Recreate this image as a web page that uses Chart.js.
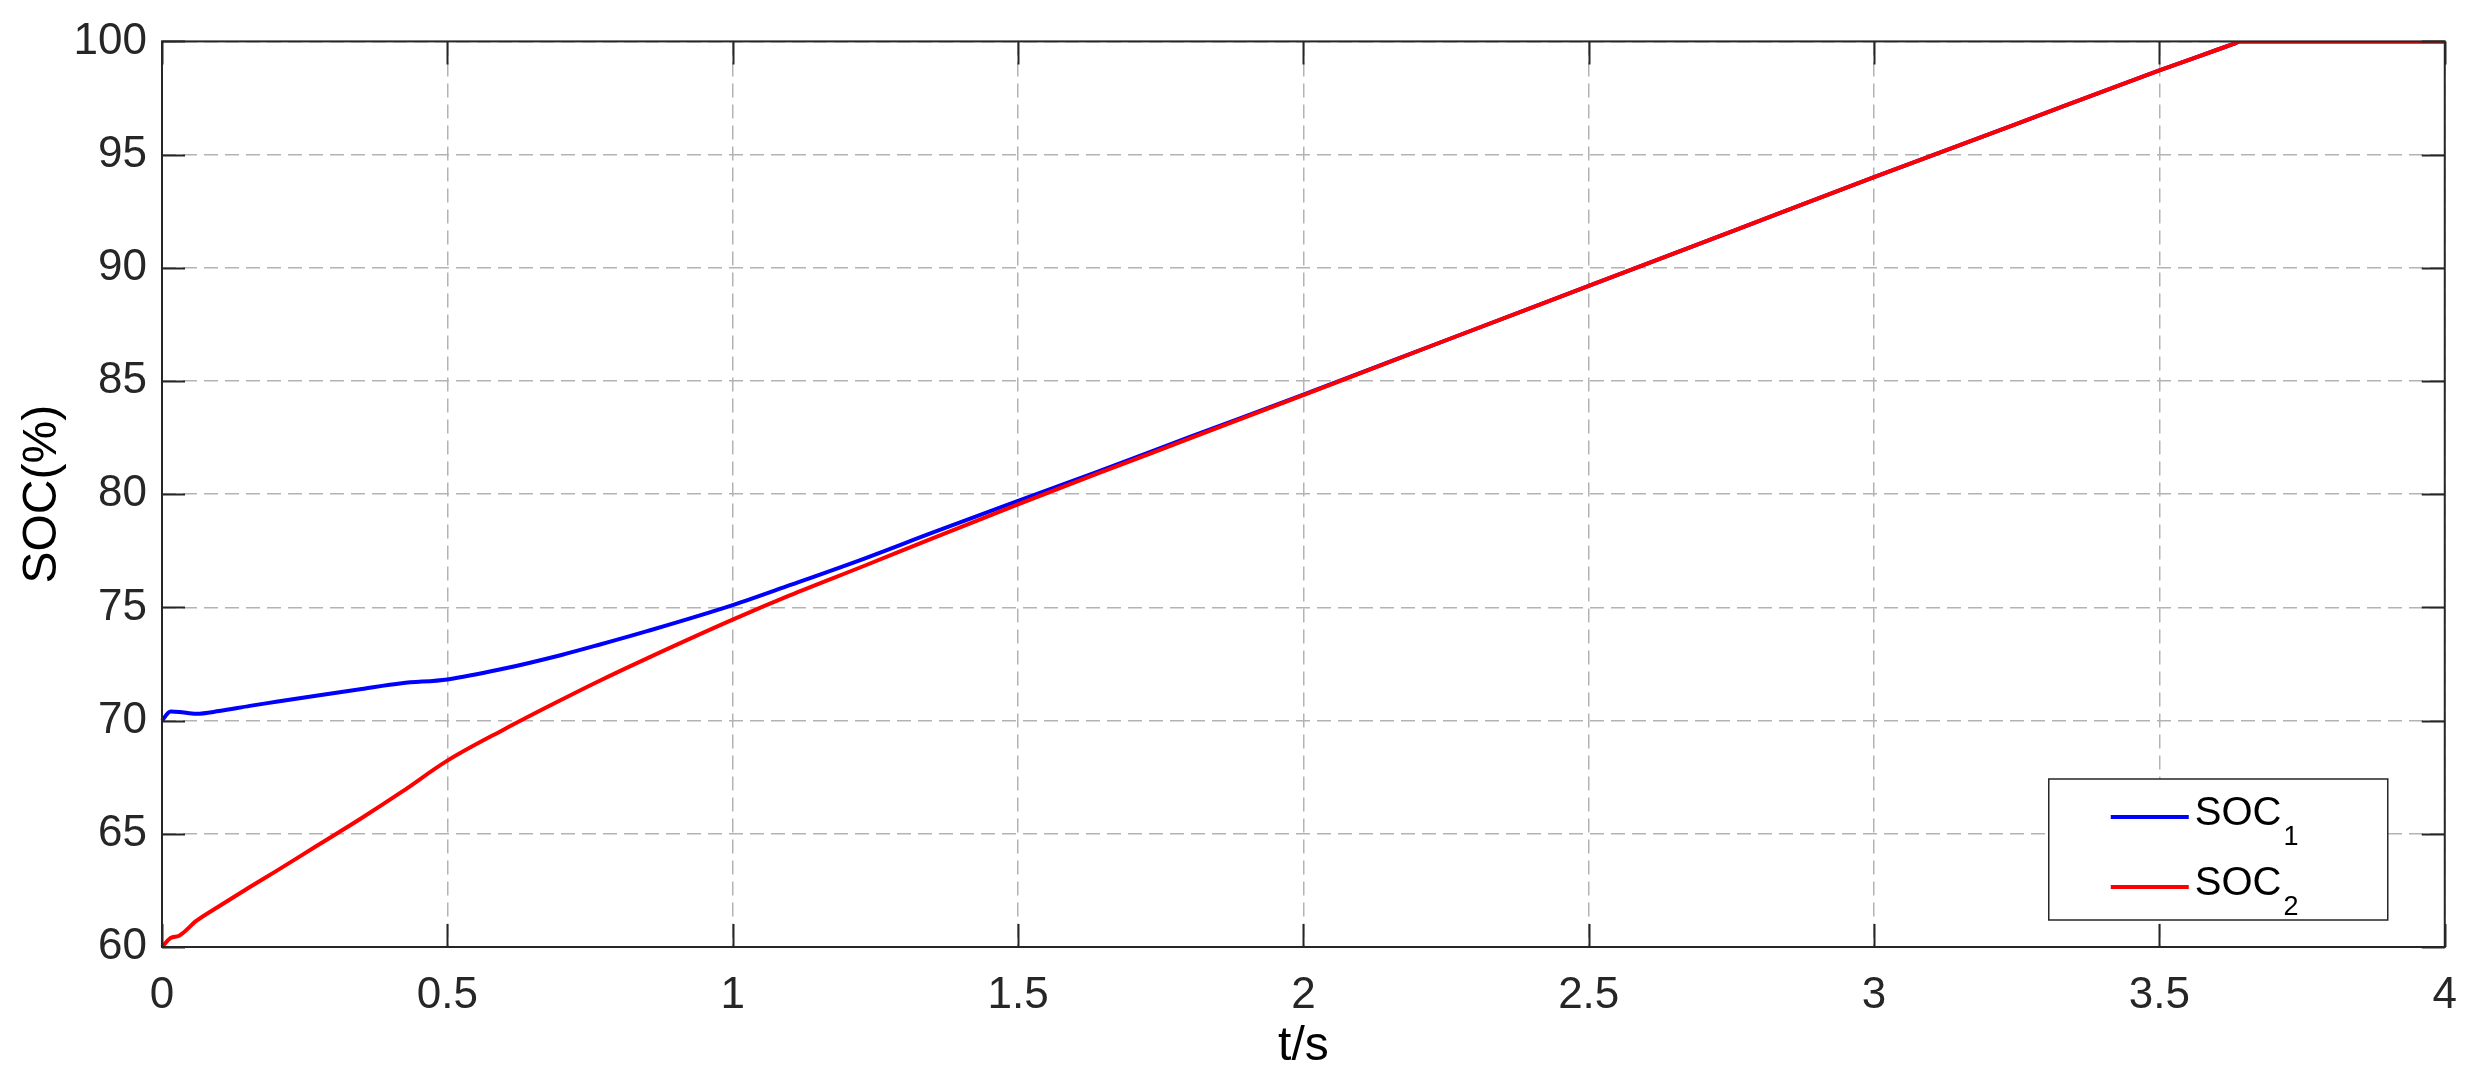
<!DOCTYPE html>
<html>
<head>
<meta charset="utf-8">
<script src="https://cdn.jsdelivr.net/npm/chart.js@4.4.1/dist/chart.umd.min.js"></script>
<style>
html,body{margin:0;padding:0;background:#fff;}
#wrap{width:2479px;height:1082px;position:relative;}
</style>
</head>
<body>
<div id="wrap"><canvas id="c" width="2479" height="1082"></canvas></div>
<script>
// ---- data ----
const timeS = [0, 0.015, 0.03, 0.06, 0.1, 0.154, 0.2, 0.27, 0.35, 0.42, 0.5, 0.6, 0.7, 0.766, 0.85, 1.0, 1.1, 1.232, 1.35, 1.5, 1.64, 1.8, 2.0, 2.25, 2.5, 2.75, 3.0, 3.25, 3.5, 3.6, 3.63, 3.642, 4.0];
const soc1 = [70.0, 70.4, 70.38, 70.3, 70.42, 70.65, 70.83, 71.1, 71.4, 71.65, 71.82, 72.3, 72.9, 73.35, 73.95, 75.1, 75.98, 77.17, 78.3, 79.7, 81.0, 82.52, 84.4, 86.8, 89.2, 91.6, 94.0, 96.36, 98.72, 99.62, 99.89, 100, 100];
const soc2 = [60.0, 60.4, 60.5, 61.15, 61.8, 62.65, 63.35, 64.45, 65.7, 66.85, 68.23, 69.62, 70.92, 71.75, 72.75, 74.46, 75.53, 76.85, 78.05, 79.55, 80.92, 82.45, 84.38, 86.8, 89.2, 91.6, 94.0, 96.36, 98.72, 99.62, 99.89, 100, 100];
const xTickValues = [0, 0.5, 1, 1.5, 2, 2.5, 3, 3.5, 4];
const xTickLabels = ['0', '0.5', '1', '1.5', '2', '2.5', '3', '3.5', '4'];
const yTickValues = [60, 65, 70, 75, 80, 85, 90, 95, 100];
const yTickLabels = ['60', '65', '70', '75', '80', '85', '90', '95', '100'];
const seriesBase = ['SOC', 'SOC'];
const seriesSub = ['1', '2'];
const seriesColors = ['#0000ff', '#ff0000'];
const xTitle = 't/s';
const yTitle = 'SOC(%)';

const FONT = '"Liberation Sans", Arial, Helvetica, sans-serif';

const toPts = (ys) => timeS.map((t, i) => ({x: t, y: ys[i]}));

const framePlugin = {
  id: 'frame',
  afterDatasetsDraw(chart) {
    const {ctx, chartArea: a, scales: {x, y}} = chart;
    ctx.save();
    ctx.strokeStyle = '#262626';
    ctx.lineWidth = 2;
    ctx.strokeRect(a.left, a.top, a.right - a.left, a.bottom - a.top);
    const tl = 23;
    ctx.beginPath();
    xTickValues.forEach(v => {
      const px = Math.round(x.getPixelForValue(v)) + 0.5;
      ctx.moveTo(px, a.bottom); ctx.lineTo(px, a.bottom - tl);
      ctx.moveTo(px, a.top); ctx.lineTo(px, a.top + tl);
    });
    yTickValues.forEach(v => {
      const py = Math.round(y.getPixelForValue(v)) + 0.5;
      ctx.moveTo(a.left, py); ctx.lineTo(a.left + tl, py);
      ctx.moveTo(a.right, py); ctx.lineTo(a.right - tl, py);
    });
    ctx.stroke();

    // legend box (inside, bottom right)
    const bx1 = a.right - 396, bx2 = a.right - 57;
    const by1 = a.bottom - 168, by2 = a.bottom - 27;
    ctx.fillStyle = '#fff';
    ctx.fillRect(bx1, by1, bx2 - bx1, by2 - by1);
    ctx.lineWidth = 1.5;
    ctx.strokeStyle = '#262626';
    ctx.strokeRect(bx1, by1, bx2 - bx1, by2 - by1);
    const rows = [by1 + 38, by1 + 108];
    chart.data.datasets.forEach((ds) => {
      const idx = ds.legendIndex;
      const ly = rows[idx];
      ctx.strokeStyle = seriesColors[idx];
      ctx.lineWidth = 4;
      ctx.beginPath();
      ctx.moveTo(bx1 + 62, ly); ctx.lineTo(bx1 + 140, ly);
      ctx.stroke();
      ctx.fillStyle = '#000';
      ctx.textBaseline = 'alphabetic';
      ctx.textAlign = 'left';
      ctx.font = '40px ' + FONT;
      const tx = bx1 + 146;
      ctx.fillText(seriesBase[idx], tx, ly + 8);
      const w = ctx.measureText(seriesBase[idx]).width;
      ctx.font = '27px ' + FONT;
      ctx.fillText(seriesSub[idx], tx + w + 2, ly + 28);
    });
    ctx.restore();
  }
};

new Chart(document.getElementById('c'), {
  type: 'line',
  data: {
    datasets: [
      { label: seriesBase[1] + seriesSub[1], legendIndex: 1, data: toPts(soc2), borderColor: seriesColors[1], borderWidth: 4, pointRadius: 0, cubicInterpolationMode: 'monotone', fill: false, order: 0, clip: {left: 2, top: 0, right: 2, bottom: 2} },
      { label: seriesBase[0] + seriesSub[0], legendIndex: 0, data: toPts(soc1), borderColor: seriesColors[0], borderWidth: 4, pointRadius: 0, cubicInterpolationMode: 'monotone', fill: false, order: 1, clip: {left: 2, top: 0, right: 2, bottom: 2} }
    ]
  },
  options: {
    responsive: false,
    animation: false,
    devicePixelRatio: 1,
    layout: { padding: { left: 0, top: 38, right: 30, bottom: 0 } },
    plugins: { legend: { display: false }, tooltip: { enabled: false } },
    scales: {
      x: {
        type: 'linear', min: 0, max: 4,
        afterFit(s) { s.height = 135; },
        afterBuildTicks(s) { s.ticks = xTickValues.map(v => ({value: v})); },
        ticks: { callback: (v, i) => xTickLabels[i], color: '#262626', font: { family: FONT, size: 44 }, padding: 22, maxRotation: 0, autoSkip: false },
        grid: { color: '#b3b3b3', lineWidth: 1.5, drawTicks: false },
        border: { display: false, dash: [14, 7] },
        title: { display: true, text: xTitle, color: '#000', font: { family: FONT, size: 48 }, padding: { top: 0, bottom: 6 } }
      },
      y: {
        type: 'linear', min: 60, max: 100,
        afterFit(s) { s.width = 162; },
        afterBuildTicks(s) { s.ticks = yTickValues.map(v => ({value: v})); },
        ticks: { callback: (v, i) => yTickLabels[i], color: '#262626', font: { family: FONT, size: 44 }, padding: 15, autoSkip: false },
        grid: { color: '#b3b3b3', lineWidth: 1.5, drawTicks: false },
        border: { display: false, dash: [14, 7] },
        title: { display: true, text: yTitle, color: '#000', font: { family: FONT, size: 48 }, padding: { top: 14, bottom: 0 } }
      }
    }
  },
  plugins: [framePlugin]
});
</script>
</body>
</html>
